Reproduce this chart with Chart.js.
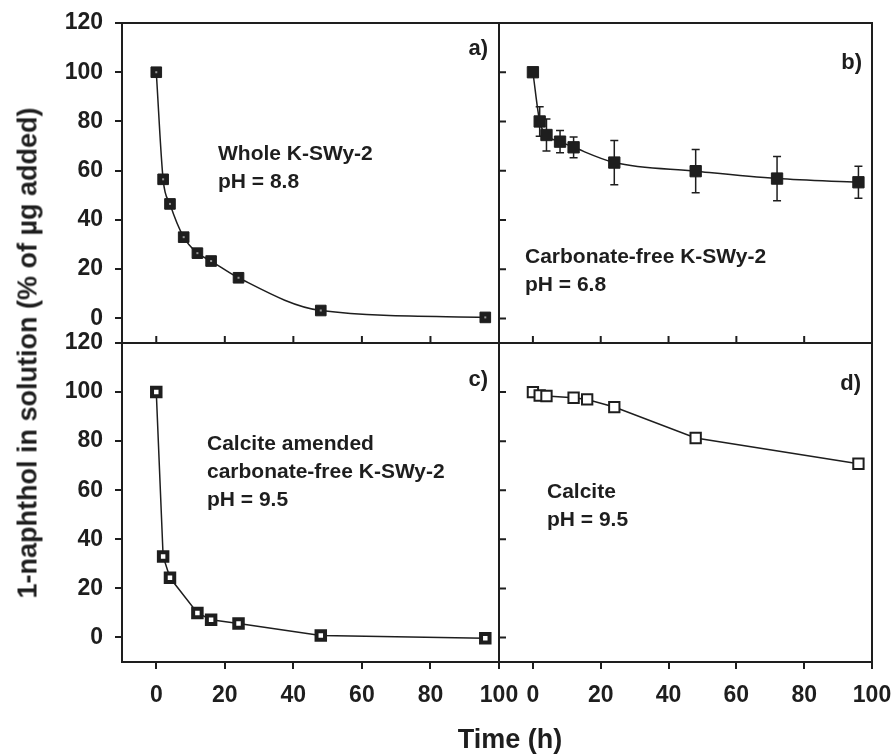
<!DOCTYPE html>
<html>
<head>
<meta charset="utf-8">
<script src="https://cdn.jsdelivr.net/npm/chart.js@4.4.1/dist/chart.umd.min.js"></script>
<style>
  body { margin: 0; background: #fff; }
  #wrap { position: relative; width: 895px; height: 754px; overflow: hidden;
          font-family: "Liberation Sans", Arial, sans-serif; font-weight: bold; color: #1e1e1e; }
  #wrap canvas { position: absolute; left: 0; top: 0; }
  .lbl { position: absolute; white-space: nowrap; font-size: 21px; line-height: 28px; }
  .tag { position: absolute; white-space: nowrap; font-size: 22px; line-height: 22px; }
  .ttl { position: absolute; white-space: nowrap; font-size: 27px; line-height: 27px; }
</style>
</head>
<body>
<div id="wrap">
  <canvas id="panelA" width="895" height="754"></canvas>
  <canvas id="panelB" width="895" height="754"></canvas>
  <canvas id="panelC" width="895" height="754"></canvas>
  <canvas id="panelD" width="895" height="754"></canvas>

  <div class="lbl" style="left:218px; top:139px;">Whole K-SWy-2<br>pH = 8.8</div>
  <div class="lbl" style="left:525px; top:242px;">Carbonate-free K-SWy-2<br>pH = 6.8</div>
  <div class="lbl" style="left:207px; top:429px;">Calcite amended<br>carbonate-free K-SWy-2<br>pH = 9.5</div>
  <div class="lbl" style="left:547px; top:477px;">Calcite<br>pH = 9.5</div>

  <div class="tag" style="right:407px; top:37px;">a)</div>
  <div class="tag" style="right:33px; top:51px;">b)</div>
  <div class="tag" style="right:407px; top:368px;">c)</div>
  <div class="tag" style="right:34px; top:372px;">d)</div>

  <div class="ttl" style="left:28px; top:353px; transform: translate(-50%, -50%) rotate(-90deg);">1-naphthol in solution (% of µg added)</div>
  <div class="ttl" style="left:510px; top:726px; transform: translateX(-50%);">Time (h)</div>
</div>

<script>
// tick values shared by all four panels
const xTicks = [0, 20, 40, 60, 80, 100];
const yTicks = [0, 20, 40, 60, 80, 100, 120];

// a) whole K-SWy-2, pH 8.8
const timeA = [0, 2, 4, 8, 12, 16, 24, 48, 96];
const pctA = [100, 56.5, 46.5, 33, 26.5, 23.3, 16.5, 3.2, 0.4];

// b) carbonate-free K-SWy-2, pH 6.8 (with error bars)
const timeB = [0, 2, 4, 8, 12, 24, 48, 72, 96];
const pctB = [100, 80, 74.5, 71.8, 69.5, 63.3, 59.8, 56.8, 55.3];
const errB = [0, 6, 6.5, 4.5, 4.2, 9, 8.8, 9, 6.5];

// c) calcite amended carbonate-free K-SWy-2, pH 9.5
const timeC = [0, 2, 4, 12, 16, 24, 48, 96];
const pctC = [100, 33, 24.3, 10, 7.2, 5.7, 0.8, -0.3];

// d) calcite, pH 9.5
const timeD = [0, 2, 4, 12, 16, 24, 48, 96];
const pctD = [100, 98.6, 98.4, 97.7, 97, 93.9, 81.3, 70.8];

const W = 895, H = 754;
const ink = '#1e1e1e';
const tickFont = { family: '"Liberation Sans", Arial, sans-serif', size: 23, weight: 'bold' };

// draws the panel box, the inward ticks and the extras (error bars, dots)
const panelFrame = {
  id: 'panelFrame',
  beforeDatasetsDraw(chart, args, opts) {
    if (!opts.errors) return;
    const xs = chart.scales.x, ys = chart.scales.y, ctx = chart.ctx;
    ctx.save();
    ctx.strokeStyle = ink;
    ctx.lineWidth = 1.5;
    opts.times.forEach((t, i) => {
      const e = opts.errors[i];
      if (!e) return;
      const x = xs.getPixelForValue(t);
      const y1 = ys.getPixelForValue(opts.values[i] + e);
      const y2 = ys.getPixelForValue(opts.values[i] - e);
      ctx.beginPath();
      ctx.moveTo(x, y1); ctx.lineTo(x, y2);
      ctx.moveTo(x - 4, y1); ctx.lineTo(x + 4, y1);
      ctx.moveTo(x - 4, y2); ctx.lineTo(x + 4, y2);
      ctx.stroke();
    });
    ctx.restore();
  },
  afterDatasetsDraw(chart, args, opts) {
    if (!opts.dots) return;
    const ctx = chart.ctx;
    ctx.save();
    ctx.fillStyle = '#999';
    chart.getDatasetMeta(0).data.forEach(p => ctx.fillRect(p.x - 1, p.y - 1, 2, 2));
    ctx.restore();
  },
  afterDraw(chart, args, opts) {
    const a = chart.chartArea, ctx = chart.ctx;
    const xs = chart.scales.x, ys = chart.scales.y;
    ctx.save();
    ctx.strokeStyle = ink;
    ctx.lineWidth = 2;
    ctx.strokeRect(a.left, a.top, a.right - a.left, a.bottom - a.top);
    ctx.beginPath();
    if (opts.innerX) {
      xTicks.forEach(v => {
        const x = xs.getPixelForValue(v);
        ctx.moveTo(x, a.bottom); ctx.lineTo(x, a.bottom - 7);
      });
    }
    if (opts.innerY) {
      yTicks.forEach(v => {
        const y = ys.getPixelForValue(v);
        ctx.moveTo(a.left, y); ctx.lineTo(a.left + 7, y);
      });
    }
    ctx.stroke();
    ctx.restore();
  }
};

function makePanel(id, box, showX, showY, times, values, style, extra) {
  return new Chart(document.getElementById(id), {
    type: 'line',
    data: {
      datasets: [{
        data: times.map((t, i) => ({ x: t, y: values[i] })),
        borderColor: ink,
        borderWidth: 1.5,
        pointStyle: 'rect',
        pointRadius: style.radius,
        pointBackgroundColor: style.fill,
        pointBorderColor: ink,
        pointBorderWidth: style.edge,
        cubicInterpolationMode: style.smooth ? 'monotone' : 'default',
        tension: 0,
        fill: false
      }]
    },
    options: {
      responsive: false,
      animation: false,
      events: [],
      layout: {
        padding: {
          left: showY ? 0 : box.l,
          right: W - box.r,
          top: box.t,
          bottom: showX ? 0 : H - box.b
        }
      },
      plugins: {
        legend: { display: false },
        tooltip: { enabled: false },
        panelFrame: extra
      },
      scales: {
        x: {
          type: 'linear', min: -10, max: 100,
          display: showX,
          afterBuildTicks: s => { s.ticks = xTicks.map(v => ({ value: v })); },
          afterFit: s => {
            if (showX) s.height = H - box.b;
            s.paddingLeft = 0; s.paddingRight = 0;
          },
          grid: { drawOnChartArea: false, drawTicks: true, tickLength: 7, color: ink, lineWidth: 2 },
          border: { display: false },
          ticks: { font: tickFont, color: ink, padding: 13, maxRotation: 0, autoSkip: false }
        },
        y: {
          type: 'linear', min: -10, max: 120,
          display: showY,
          afterBuildTicks: s => { s.ticks = yTicks.map(v => ({ value: v })); },
          afterFit: s => {
            if (showY) s.width = box.l;
            s.paddingTop = 0; s.paddingBottom = 0;
          },
          grid: { drawOnChartArea: false, drawTicks: true, tickLength: 7, color: ink, lineWidth: 2 },
          border: { display: false },
          ticks: { font: tickFont, color: ink, padding: 12 }
        }
      }
    },
    plugins: [panelFrame]
  });
}

makePanel('panelA', { l: 122, r: 499, t: 23, b: 343 }, false, true, timeA, pctA,
  { radius: 7.5, fill: ink, edge: 1, smooth: true },
  { innerX: true, innerY: false, dots: true });

makePanel('panelB', { l: 499, r: 872, t: 23, b: 343 }, false, false, timeB, pctB,
  { radius: 8, fill: ink, edge: 1, smooth: true },
  { innerX: true, innerY: true, errors: errB, times: timeB, values: pctB });

makePanel('panelC', { l: 122, r: 499, t: 343, b: 662 }, true, true, timeC, pctC,
  { radius: 6, fill: '#fff', edge: 4, smooth: false },
  { innerX: false, innerY: false });

makePanel('panelD', { l: 499, r: 872, t: 343, b: 662 }, true, false, timeD, pctD,
  { radius: 7.3, fill: '#fff', edge: 2, smooth: false },
  { innerX: false, innerY: true });
</script>
</body>
</html>
